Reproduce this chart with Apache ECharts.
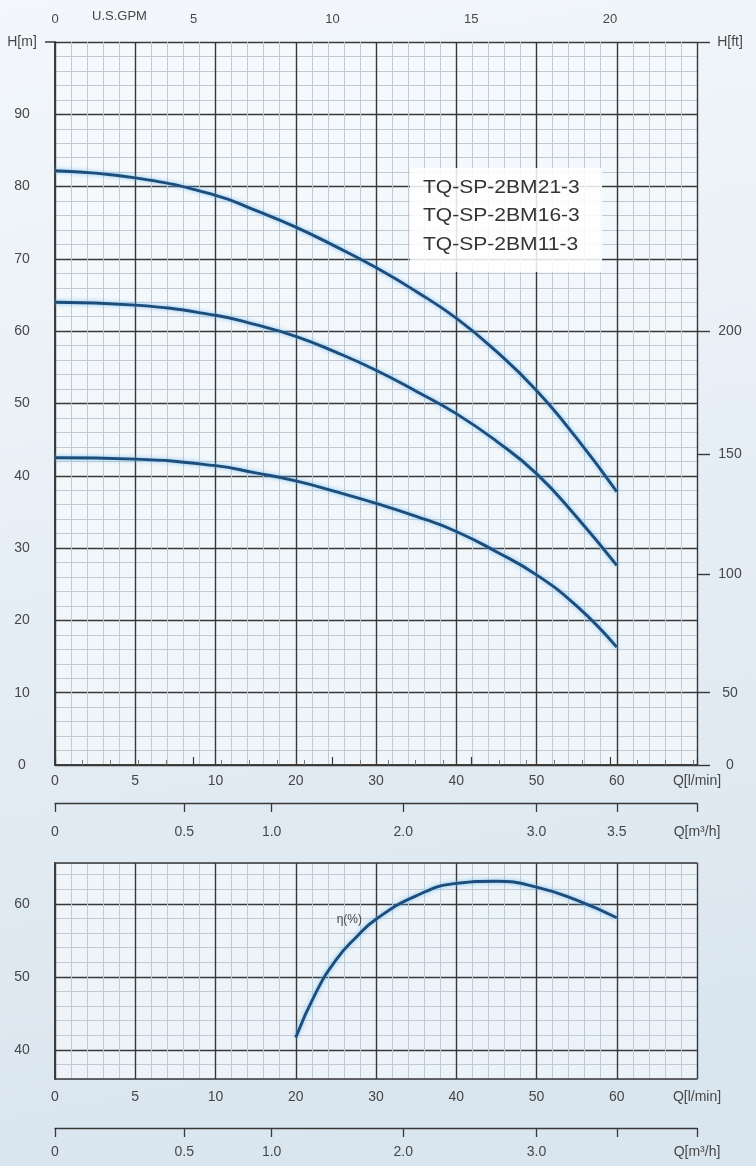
<!DOCTYPE html>
<html><head><meta charset="utf-8">
<script src="https://cdn.jsdelivr.net/npm/echarts@6/dist/echarts.min.js"></script>
<style>html,body{margin:0;padding:0;background:#eaf1f7}#c{width:756px;height:1166px}</style>
</head><body><div id="c"></div>
<script>
// ---- printed flow scale (l/min labels at equally spaced major lines) ----
const qTickValues = [0, 5, 10, 20, 30, 40, 50, 60];
const qTickLabels = ['0', '5', '10', '20', '30', '40', '50', '60'];
// ---- head curves (m) ----
const qFlow = [0, 5, 10, 15, 20, 25, 30, 35, 40, 45, 50, 55, 60];
const h21 = [82.2, 81.2, 78.8, 76.7, 74.4, 71.7, 68.8, 65.5, 61.8, 57.2, 51.8, 45.2, 37.8];
const h16 = [64.0, 63.6, 62.2, 60.9, 59.3, 57.1, 54.6, 51.7, 48.6, 44.8, 40.3, 34.3, 27.6];
const h11 = [42.5, 42.3, 41.4, 40.4, 39.3, 37.8, 36.2, 34.4, 32.3, 29.5, 26.3, 22.0, 16.3];
const modelNames = ['TQ-SP-2BM21-3', 'TQ-SP-2BM16-3', 'TQ-SP-2BM11-3'];
// ---- efficiency curve (%) ----
const qEff = [20, 22.5, 25, 27.5, 30, 35, 40, 45, 50, 55, 60];
const eff = [41.7, 47.8, 52.3, 55.4, 57.9, 61.1, 62.8, 63.1, 62.3, 60.5, 58.1];
// ---- secondary scales as printed ----
const m3Labels = ['0', '0.5', '1.0', '2.0', '3.0', '3.5'];
const m3Lower = ['0', '0.5', '1.0', '2.0', '3.0', ''];
const m3Pos = [0, 1.61, 2.7, 4.34, 6.0, 7.0];
const ftLabels = ['0', '50', '100', '150', '200'];
const ftAtMetres = [0, 10, 26.4, 43, 60];
const gpmMax = 23.14;

function posOf(q) {
  for (let i = 0; i < qTickValues.length - 1; i++) {
    const a = qTickValues[i], b = qTickValues[i + 1];
    if (q <= b) return i + (q - a) / (b - a);
  }
  return qTickValues.length - 1;
}

const MAJOR = '#383838', MINOR = '#c0cad5', TXT = '#474747', CURVE = '#1d4d7b';
const FONT = 'Liberation Sans, Arial, sans-serif';
const lab = (extra) => Object.assign({ color: TXT, fontSize: 14, fontFamily: FONT }, extra);

const chart = echarts.init(document.getElementById('c'), null, { renderer: 'canvas' });

function qAxis(gridIndex, margin) {
  return {
    type: 'value', gridIndex, position: 'bottom', min: 0, max: 8, interval: 1,
    axisLine: { show: true, lineStyle: { color: MAJOR, width: 1.5 } },
    axisTick: { show: false },
    minorTick: { show: false, splitNumber: 5 },
    axisLabel: lab({ margin, showMaxLabel: true, formatter: v => v === 8 ? 'Q[l/min]' : (qTickLabels[v] ?? '') }),
    splitLine: { show: true, lineStyle: { color: MAJOR, width: 1.4 } },
    minorSplitLine: { show: true, lineStyle: { color: MINOR, width: 1 } }
  };
}
function m3Axis(gridIndex, offset, margin, labels) {
  const vals = m3Pos.concat([8]);
  return {
    type: 'value', gridIndex, position: 'bottom', offset, min: 0, max: 8,
    axisLine: { show: true, lineStyle: { color: MAJOR, width: 1.3 } },
    axisTick: { show: true, customValues: vals, length: 9, lineStyle: { color: MAJOR, width: 1.3 } },
    axisLabel: lab({ margin, customValues: vals, formatter: v => {
      if (v === 8) return 'Q[m³/h]';
      const i = m3Pos.indexOf(v); return i >= 0 ? labels[i] : '';
    } }),
    splitLine: { show: false }
  };
}

const curveStyle = { color: CURVE, width: 2.9, shadowColor: 'rgba(110,185,240,0.9)', shadowBlur: 4 };

const option = {
  animation: false,
  backgroundColor: { type: 'linear', x: 0, y: 0, x2: 0.3, y2: 1, colorStops: [
    { offset: 0, color: '#f3f7fb' }, { offset: 0.5, color: '#e6eef5' }, { offset: 1, color: '#d9e5ef' }] },
  grid: [
    { left: 55, top: 42, width: 642, height: 723, show: true, backgroundColor: 'rgba(248,251,253,0.6)', borderWidth: 0 },
    { left: 55, top: 863, width: 642, height: 216, show: true, backgroundColor: 'rgba(248,251,253,0.6)', borderWidth: 0 },
    { left: 697, top: 42, width: 13, height: 723, show: false },
    { left: 45, top: 42, width: 10, height: 723, show: false }
  ],
  xAxis: [
    qAxis(0, 9),
    {
      type: 'value', gridIndex: 0, position: 'top', min: 0, max: gpmMax, interval: 5,
      axisLine: { show: true, lineStyle: { color: MAJOR, width: 1.5 } },
      axisTick: { show: true, length: 8, lineStyle: { color: MAJOR, width: 1.2 } },
      minorTick: { show: true, splitNumber: 5, length: 5, lineStyle: { color: '#777', width: 1 } },
      axisLabel: lab({ margin: 16, fontSize: 13, showMaxLabel: false }),
      splitLine: { show: false }
    },
    m3Axis(0, 38, 22, m3Labels),
    qAxis(1, 11),
    m3Axis(1, 49, 17, m3Lower),
    {
      type: 'value', gridIndex: 1, position: 'top', min: 0, max: 8,
      axisLine: { show: true, lineStyle: { color: MAJOR, width: 1.5 } },
      axisTick: { show: false }, axisLabel: { show: false }, splitLine: { show: false }
    },
    { type: 'value', gridIndex: 2, show: false, min: 0, max: 1 },
    { type: 'value', gridIndex: 3, show: false, min: 0, max: 1 }
  ],
  yAxis: [
    {
      type: 'value', gridIndex: 0, position: 'left', min: 0, max: 100, interval: 10,
      axisLine: { show: true, lineStyle: { color: MAJOR, width: 1.5 } },
      axisTick: { show: false },
      minorTick: { show: false, splitNumber: 5 },
      axisLabel: lab({ align: 'center', margin: 33, formatter: v => v === 100 ? 'H[m]' : String(v) }),
      splitLine: { show: true, lineStyle: { color: MAJOR, width: 1.4 } },
      minorSplitLine: { show: true, lineStyle: { color: MINOR, width: 1 } }
    },
    {
      type: 'value', gridIndex: 0, position: 'right', min: 0, max: 100,
      axisLine: { show: true, lineStyle: { color: MAJOR, width: 1.5 } },
      axisTick: { show: false }, axisLabel: { show: false }, splitLine: { show: false }
    },
    {
      type: 'value', gridIndex: 1, position: 'left', min: 36, max: 65.6, interval: 2,
      axisLine: { show: false }, axisTick: { show: false }, axisLabel: { show: false },
      splitLine: { show: true, lineStyle: { color: MINOR, width: 1 } }
    },
    {
      type: 'value', gridIndex: 1, position: 'left', min: 36, max: 65.6,
      axisLine: { show: true, lineStyle: { color: MAJOR, width: 1.5 } },
      axisTick: { show: false, customValues: [40, 50, 60] },
      axisLabel: lab({ align: 'center', margin: 33, customValues: [40, 50, 60] }),
      splitLine: { show: true, lineStyle: { color: MAJOR, width: 1.4 } }
    },
    {
      type: 'value', gridIndex: 1, position: 'right', min: 36, max: 65.6,
      axisLine: { show: true, lineStyle: { color: MAJOR, width: 1.5 } },
      axisTick: { show: false }, axisLabel: { show: false }, splitLine: { show: false }
    },
    {
      // H[ft] scale as printed, drawn on a narrow strip right of the frame
      type: 'value', gridIndex: 2, position: 'right', min: 0, max: 100,
      axisLine: { show: false },
      axisTick: { show: false, customValues: ftAtMetres.concat([100]) },
      axisLabel: lab({ align: 'center', margin: 20, customValues: ftAtMetres.concat([100]), formatter: v => {
        if (v === 100) return 'H[ft]';
        const i = ftAtMetres.indexOf(v); return i >= 0 ? ftLabels[i] : '';
      } }),
      splitLine: { show: true, lineStyle: { color: MAJOR, width: 1.4 } }
    },
    {
      // extension of the top (GPM) line to the left of the frame
      type: 'value', gridIndex: 3, position: 'left', min: 0, max: 100,
      axisLine: { show: false }, axisLabel: { show: false },
      axisTick: { show: false, customValues: [100] },
      splitLine: { show: true, lineStyle: { color: MAJOR, width: 1.5 } }
    }
  ],
  series: [
    { name: modelNames[0], type: 'line', xAxisIndex: 0, yAxisIndex: 0, smooth: true, showSymbol: false,
      lineStyle: curveStyle, data: qFlow.map((q, i) => [posOf(q), h21[i]]) },
    { name: modelNames[1], type: 'line', xAxisIndex: 0, yAxisIndex: 0, smooth: true, showSymbol: false,
      lineStyle: curveStyle, data: qFlow.map((q, i) => [posOf(q), h16[i]]) },
    { name: modelNames[2], type: 'line', xAxisIndex: 0, yAxisIndex: 0, smooth: true, showSymbol: false,
      lineStyle: curveStyle, data: qFlow.map((q, i) => [posOf(q), h11[i]]) },
    { name: 'η(%)', type: 'line', xAxisIndex: 3, yAxisIndex: 3, smooth: true,
      showSymbol: true, symbol: 'circle', symbolSize: 0.01, itemStyle: { color: CURVE },
      lineStyle: curveStyle,
      data: qEff.map((q, i) => q === 30
        ? { value: [posOf(q), eff[i]], label: { show: true, position: 'left', distance: 14, formatter: 'η(%)', color: TXT, fontSize: 12, fontFamily: FONT } }
        : [posOf(q), eff[i]]) }
  ],
  graphic: [
    { type: 'rect', left: 410, top: 168, shape: { width: 192, height: 104 }, style: { fill: 'rgba(255,255,255,0.85)' }, z: 5 },
    { type: 'text', left: 423, top: 179, z: 6, scaleX: 1.17, style: { text: modelNames[0], font: '18px ' + FONT, fill: '#333' } },
    { type: 'text', left: 423, top: 207.5, z: 6, scaleX: 1.17, style: { text: modelNames[1], font: '18px ' + FONT, fill: '#333' } },
    { type: 'text', left: 423, top: 236, z: 6, scaleX: 1.17, style: { text: modelNames[2], font: '18px ' + FONT, fill: '#333' } },
    { type: 'text', left: 92, top: 10, z: 6, style: { text: 'U.S.GPM', font: '13px ' + FONT, fill: TXT } }
  ]
};
chart.setOption(option);
</script></body></html>
